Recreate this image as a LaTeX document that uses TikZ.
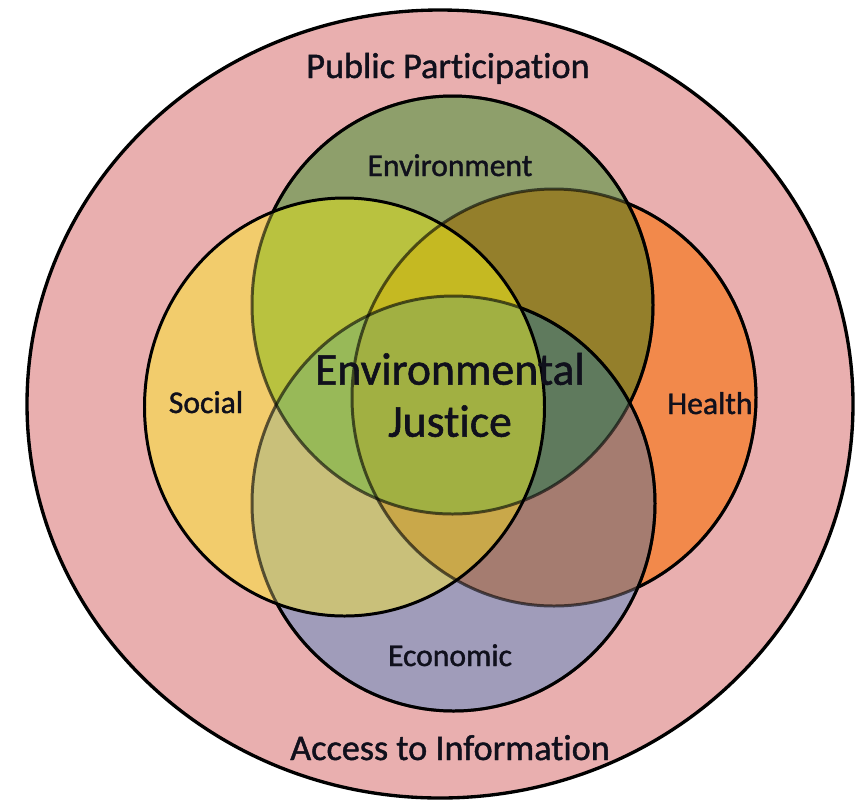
\documentclass[tikz,border=0pt]{standalone}
\usepackage{fontspec}
\setmainfont{Carlito}[FakeBold=1.2, Ligatures=NoCommon]

\definecolor{pinkbg}{HTML}{E9AFAF}
\definecolor{socialc}{HTML}{F2CC6C}
\definecolor{healthc}{HTML}{F2894B}
\definecolor{envc}{HTML}{8E9F6B}
\definecolor{econc}{HTML}{A09CBA}
\definecolor{socenv}{HTML}{B9C23F}
\definecolor{envhea}{HTML}{947F2B}
\definecolor{heaeco}{HTML}{A57C70}
\definecolor{soceco}{HTML}{C9C07A}
\definecolor{sochea}{HTML}{C5B922}
\definecolor{envheaeco}{HTML}{5F7A5D}
\definecolor{socheaeco}{HTML}{C9A84A}
\definecolor{socenveco}{HTML}{98B958}
\definecolor{allfour}{HTML}{A1B042}
\definecolor{ink}{HTML}{10101C}

\newcommand{\SocShape}{(6.89,-8.14) ellipse (4.00 and 4.18)}
\newcommand{\HeaShape}{(11.08,-7.95) ellipse (4.04 and 4.17)}
\newcommand{\EnvShape}{(9.05,-6.10) ellipse (4.01 and 4.18)}
\newcommand{\EcoShape}{(9.07,-10.07) ellipse (4.03 and 4.15)}
\newcommand{\Outside}{(-1,1) -- (18,1) -- (18,-17) -- (-1,-17) -- cycle}

\tikzset{
  ring/.style={draw=black, line width=1.7pt},
  faint/.style={ring, draw opacity=0.6},
  label/.style={font=\fontsize{18}{20}\selectfont, text=ink, anchor=base},
  biglabel/.style={font=\fontsize{20.6}{24}\selectfont, text=ink, anchor=base},
}

\begin{document}
\begin{tikzpicture}
\useasboundingbox (0,0) rectangle (17.12,-16.04);

% outer ring
\filldraw[fill=pinkbg, ring, line width=1.9pt] (8.80,-8.08) ellipse (8.26 and 7.88);

% one set
\fill[socialc] \SocShape;
\fill[healthc] \HeaShape;
\fill[envc] \EnvShape;
\fill[econc] \EcoShape;
% two sets
\begin{scope}
  \clip \SocShape;
  \fill[socenv] \EnvShape;
  \fill[soceco] \EcoShape;
\end{scope}
\begin{scope}
  \clip \HeaShape;
  \fill[envhea] \EnvShape;
  \fill[heaeco] \EcoShape;
\end{scope}
% three sets
\begin{scope}
  \clip \SocShape;
  \clip \HeaShape;
  \fill[sochea] \EnvShape;
  \fill[socheaeco] \EcoShape;
\end{scope}
\begin{scope}
  \clip \EnvShape;
  \clip \EcoShape;
  \fill[socenveco] \SocShape;
  \fill[envheaeco] \HeaShape;
\end{scope}
% all four
\begin{scope}
  \clip \SocShape;
  \clip \HeaShape;
  \clip \EnvShape;
  \fill[allfour] \EcoShape;
\end{scope}

% outlines, dimmed where a later ring lies over them
\draw[faint] \HeaShape;
\begin{scope}
  \clip \Outside \EnvShape;
  \clip \Outside \EcoShape;
  \clip \Outside \SocShape;
  \draw[ring] \HeaShape;
\end{scope}
\draw[faint] \EnvShape;
\begin{scope}
  \clip \Outside \EcoShape;
  \clip \Outside \SocShape;
  \draw[ring] \EnvShape;
\end{scope}
\draw[faint] \EcoShape;
\begin{scope}
  \clip \Outside \SocShape;
  \draw[ring] \EcoShape;
\end{scope}
\draw[ring] \SocShape;

\node[biglabel] (public) at (8.96,-1.56) {Public Participation};
\node[biglabel] (access) at (9.00,-15.20) {Access to Information};
\node[label] (environment) at (9.00,-3.52) {Environment};
\node[label] (social) at (4.12,-8.26) {Social};
\node[label] (health) at (14.20,-8.28) {Health};
\node[label] (economic) at (9.00,-13.32) {Economic};
\node[font=\fontsize{26}{29.6}\selectfont, text=ink, align=center] (ej) at (9.00,-7.90) {Environmental\\Justice};
\end{tikzpicture}
\end{document}
